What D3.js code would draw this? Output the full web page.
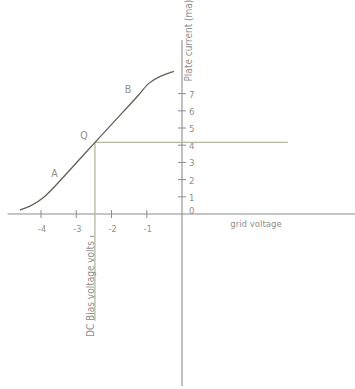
<!DOCTYPE html>
<html>
<head>
<meta charset="utf-8">
<script src="https://cdn.jsdelivr.net/npm/d3@7"></script>
<style>
  html, body { margin: 0; padding: 0; background: #fff; }
  svg { display: block; }
  text { font-family: "DejaVu Sans Condensed", "DejaVu Sans", sans-serif; fill: #8f8f8f; }
</style>
</head>
<body>
<div id="chart"></div>
<script>
// Grid voltage (volts) vs plate current (mA) for a triode
const xTicks = [-4, -3, -2, -1];
const yTicks = [0, 1, 2, 3, 4, 5, 6, 7];
const gridVoltage  = [-4.6, -4.31, -3.94, -3.46, -2.47, -1.62, -1.19, -0.97, -0.62, -0.23];
const plateCurrent = [0.23, 0.44, 0.86, 1.93, 4.16, 6.06, 6.98, 7.62, 8.02, 8.29];
const biasVoltage = -2.47;
const quiescentCurrent = 4.16;
const pointLabels = [
  { text: "A", v: -3.62, i: 2.15 },
  { text: "Q", v: -2.78, i: 4.35 },
  { text: "B", v: -1.53, i: 7.05 }
];

const W = 355, H = 389;
const x = d3.scaleLinear().domain([-4, 0]).range([41, 182]);
const y = d3.scaleLinear().domain([0, 8]).range([214, 76.4]);

const svg = d3.select("#chart").append("svg")
  .attr("width", W).attr("height", H);

const axisColor = "#8c8c8c";
const guideColor = "#b4b79f";

// horizontal (grid voltage) axis
svg.append("line")
  .attr("x1", x(-4.95)).attr("x2", W)
  .attr("y1", y(0)).attr("y2", y(0))
  .attr("stroke", axisColor).attr("stroke-width", 1.1);

// vertical (plate current) axis
svg.append("line")
  .attr("x1", x(0)).attr("x2", x(0))
  .attr("y1", y(10.1)).attr("y2", y(-10))
  .attr("stroke", axisColor).attr("stroke-width", 1.1);

// x tick marks and labels
const xt = svg.append("g");
xt.selectAll("line").data(xTicks).join("line")
  .attr("x1", d => x(d)).attr("x2", d => x(d))
  .attr("y1", y(0) - 4).attr("y2", y(0) + 4)
  .attr("stroke", axisColor);
xt.selectAll("text").data(xTicks).join("text")
  .attr("x", d => x(d) + 1).attr("y", y(0) + 18)
  .attr("text-anchor", "middle")
  .attr("font-size", 9)
  .text(d => d);

// y tick marks and labels
const yt = svg.append("g");
yt.selectAll("line").data(yTicks.slice(1)).join("line")
  .attr("x1", x(0) - 4).attr("x2", x(0) + 4)
  .attr("y1", d => y(d)).attr("y2", d => y(d))
  .attr("stroke", axisColor);
yt.selectAll("text").data(yTicks).join("text")
  .attr("x", x(0) + 7).attr("y", d => y(d) + 4 - (d === 0 ? 4 : 0))
  .attr("font-size", 9.5)
  .text(d => d);

// quiescent point guide lines
svg.append("line")
  .attr("x1", x(biasVoltage)).attr("x2", x(3.0))
  .attr("y1", y(quiescentCurrent)).attr("y2", y(quiescentCurrent))
  .attr("stroke", guideColor).attr("stroke-width", 1.3);
svg.append("line")
  .attr("x1", x(biasVoltage)).attr("x2", x(biasVoltage))
  .attr("y1", y(quiescentCurrent)).attr("y2", y(-6.2))
  .attr("stroke", guideColor).attr("stroke-width", 1.3);
svg.append("line")
  .attr("x1", x(biasVoltage) - 5).attr("x2", x(biasVoltage) - 1)
  .attr("y1", y(-1.3)).attr("y2", y(-1.3))
  .attr("stroke", axisColor);

// characteristic curve
const pts = gridVoltage.map((v, k) => [v, plateCurrent[k]]);
svg.append("path")
  .datum(pts)
  .attr("fill", "none")
  .attr("stroke", "#5f6358")
  .attr("stroke-width", 1.3)
  .attr("d", d3.line().x(d => x(d[0])).y(d => y(d[1])).curve(d3.curveBasis));

// point labels
svg.selectAll("text.pt").data(pointLabels).join("text")
  .attr("class", "pt")
  .attr("x", d => x(d.v)).attr("y", d => y(d.i))
  .attr("text-anchor", "middle")
  .attr("font-size", 10.5)
  .text(d => d.text);

// axis titles
svg.append("text")
  .attr("x", 256).attr("y", y(0) + 13)
  .attr("text-anchor", "middle")
  .attr("font-size", 9.5)
  .text("grid voltage");

svg.append("text")
  .attr("transform", `translate(${x(0) + 10},${y(7.7)}) rotate(-90)`)
  .attr("font-size", 10)
  .text("Plate current (ma)");

svg.append("text")
  .attr("transform", `translate(${x(biasVoltage) - 1},${y(-7.15)}) rotate(-90)`)
  .attr("font-size", 10)
  .text("DC Bias voltage volts");
</script>
</body>
</html>
